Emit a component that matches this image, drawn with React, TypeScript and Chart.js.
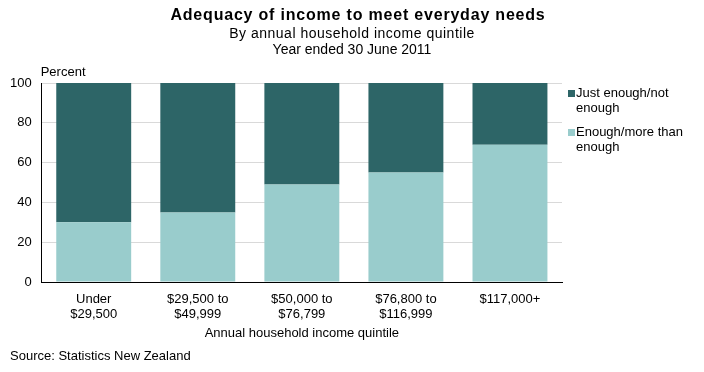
import React, { useEffect, useRef } from "react";
import { Chart, registerables } from "chart.js";

Chart.register(...registerables);

const categories: string[][] = [
  ["Under", "$29,500"],
  ["$29,500 to", "$49,999"],
  ["$50,000 to", "$76,799"],
  ["$76,800 to", "$116,999"],
  ["$117,000+"],
];
const enoughMore: number[] = [30, 35, 49, 55, 69];
const justNotEnough: number[] = [70, 65, 51, 45, 31];
const seriesNames: string[] = ["Enough/more than enough", "Just enough/not enough"];
const legendLines: string[][] = [
  ["Just enough/not", "enough"],
  ["Enough/more than", "enough"],
];
const titleLines: string[] = [
  "Adequacy of income to meet everyday needs",
  "By annual household income quintile",
  "Year ended 30 June 2011",
];
const yTicks: number[] = [0, 20, 40, 60, 80, 100];
const xAxisTitle = "Annual household income quintile";
const yAxisLabel = "Percent";
const sourceText = "Source: Statistics New Zealand";

const DARK = "#2d6567";
const LIGHT = "#99cccc";
const FONT = "'Liberation Sans', Arial, sans-serif";

const decorPlugin = {
  id: "decor",
  afterDraw(chart: any) {
    const ctx = chart.ctx as any;
    const area = chart.chartArea;
    ctx.save();
    ctx.fillStyle = "#000";
    ctx.textAlign = "center";
    ctx.textBaseline = "middle";
    ctx.font = `bold 16px ${FONT}`;
    ctx.letterSpacing = "0.8px";
    ctx.fillText(titleLines[0], 358, 16);
    ctx.font = `14px ${FONT}`;
    ctx.letterSpacing = "0.5px";
    ctx.fillText(titleLines[1], 352, 34);
    ctx.letterSpacing = "0px";
    ctx.fillText(titleLines[2], 352, 50);

    ctx.font = `13px ${FONT}`;
    ctx.fillText(xAxisTitle, (area.left + area.right) / 2, 333);

    ctx.textAlign = "left";
    ctx.fillText(yAxisLabel, area.left - 1, 72);
    ctx.fillText(sourceText, 10, 356);

    const colors = [DARK, LIGHT];
    const tops = [93, 132];
    legendLines.forEach((lines, i) => {
      ctx.fillStyle = colors[i];
      ctx.fillRect(568, tops[i] - 3, 7, 7);
      ctx.fillStyle = "#000";
      lines.forEach((ln, j) => {
        ctx.fillText(ln, 576, tops[i] + j * 15);
      });
    });
    ctx.restore();
  },
};

export default function App() {
  const ref = useRef<HTMLCanvasElement | null>(null);
  useEffect(() => {
    if (!ref.current) return;
    const chart = new Chart(ref.current, {
      type: "bar",
      data: {
        labels: categories,
        datasets: [
          {
            label: seriesNames[0],
            data: enoughMore,
            backgroundColor: LIGHT,
            barPercentage: 0.9,
            categoryPercentage: 0.8,
          },
          {
            label: seriesNames[1],
            data: justNotEnough,
            backgroundColor: DARK,
            barPercentage: 0.9,
            categoryPercentage: 0.8,
          },
        ],
      },
      options: {
        animation: false,
        responsive: false,
        layout: { padding: { top: 83, right: 142, left: 0, bottom: 40 } },
        plugins: {
          legend: { display: false },
          tooltip: { enabled: false },
          title: { display: false },
        },
        scales: {
          x: {
            stacked: true,
            grid: { display: false, drawTicks: false },
            border: { display: true, color: "#000", width: 1 },
            ticks: {
              color: "#000",
              font: { family: FONT, size: 13, lineHeight: 1.15 },
              padding: 10,
              maxRotation: 0,
              autoSkip: false,
            },
          },
          y: {
            stacked: true,
            min: 0,
            max: 100,
            afterBuildTicks: (axis: any) => {
              axis.ticks = yTicks.map((v) => ({ value: v }));
            },
            grid: { color: "#d9d9d9", drawTicks: false },
            border: { display: true, color: "#000", width: 1 },
            ticks: {
              color: "#000",
              font: { family: FONT, size: 13 },
              padding: 10,
            },
          },
        },
      },
      plugins: [decorPlugin],
    });
    return () => chart.destroy();
  }, []);
  return (
    <div style={{ position: "absolute", left: 0, top: 0, width: 704, height: 372, background: "#fff" }}>
      <canvas ref={ref} width={704} height={372} />
    </div>
  );
}
